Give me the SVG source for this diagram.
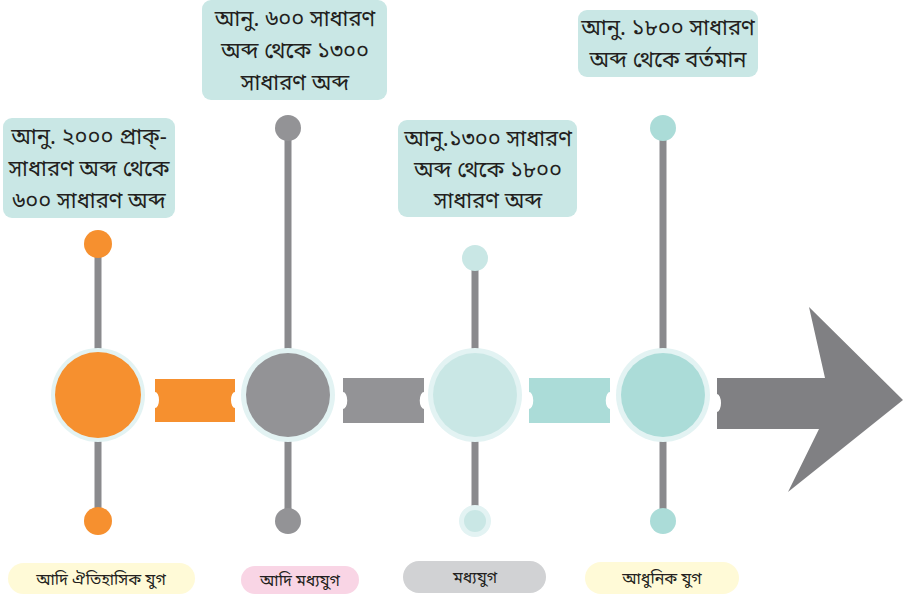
<svg xmlns="http://www.w3.org/2000/svg" width="903" height="599" viewBox="0 0 903 599">
<style>
.stem{stroke:#8a8a8d;stroke-width:7;fill:none}
.ring{fill:#e3f3f3}
.box{fill:#c9e7e5}
.t{font-family:"Noto Sans Bengali","Noto Sans",sans-serif;font-size:22px;fill:#231f20;text-anchor:middle}
.lb{font-family:"Noto Sans Bengali","Noto Sans",sans-serif;font-size:16px;fill:#231f20;text-anchor:middle}
</style>
<rect width="903" height="599" fill="#ffffff"/>
<g id="connectors">
<path d="M155,379 H235 V392 A4,8 0 0 0 235,408 V422 H155 V408 A4,8 0 0 0 155,392 Z" fill="#f6902f"/>
<path d="M343,378 H424 V392 A4,8 0 0 0 424,409 V423 H343 V409 A4,8 0 0 0 343,392 Z" fill="#939396"/>
<path d="M529,378 H610 V392 A4,8 0 0 0 610,409 V423 H529 V409 A4,8 0 0 0 529,392 Z" fill="#abdcd8"/>
<path d="M717,378 H825 L809,307 L903,400 L788,492 L819,429 H717 V412 A4,9 0 0 0 717,394 Z" fill="#808083"/>
</g>
<g id="node1">
<line class="stem" x1="98" y1="244" x2="98" y2="521"/>
<circle cx="98" cy="244" r="14" fill="#f6902f"/>
<circle cx="98" cy="521" r="14" fill="#f6902f"/>
<circle class="ring" cx="98" cy="395" r="47"/>
<circle cx="98" cy="395" r="43" fill="#f6902f"/>
<rect class="box" x="3" y="118" width="172" height="100" rx="9"/>
<text class="t" x="89" y="144">আনু. ২০০০ প্রাক্-</text>
<text class="t" x="89" y="176">সাধারণ অব্দ থেকে</text>
<text class="t" x="89" y="208">৬০০ সাধারণ অব্দ</text>
<rect x="8" y="563" width="187" height="31" rx="15.5" fill="#fffad7"/>
<text class="lb" x="101" y="585">আদি ঐতিহাসিক যুগ</text>
</g>
<g id="node2">
<line class="stem" x1="288" y1="128" x2="288" y2="521"/>
<circle cx="288" cy="128" r="13" fill="#939396"/>
<circle cx="288" cy="521" r="13" fill="#939396"/>
<circle class="ring" cx="288" cy="395" r="47"/>
<circle cx="288" cy="395" r="42" fill="#939396"/>
<rect class="box" x="202" y="0" width="185" height="100" rx="9"/>
<text class="t" x="295" y="26">আনু. ৬০০ সাধারণ</text>
<text class="t" x="295" y="58">অব্দ থেকে ১৩০০</text>
<text class="t" x="295" y="90">সাধারণ অব্দ</text>
<rect x="241" y="566" width="118" height="28" rx="14" fill="#f9d5e5"/>
<text class="lb" x="300" y="586">আদি মধ্যযুগ</text>
</g>
<g id="node3">
<line class="stem" x1="475" y1="258" x2="475" y2="521"/>
<circle cx="475" cy="258" r="13" fill="#c9e7e5"/>
<circle class="ring" cx="475" cy="521" r="16"/>
<circle cx="475" cy="521" r="11" fill="#c9e7e5"/>
<circle class="ring" cx="475" cy="395" r="47"/>
<circle cx="475" cy="395" r="42" fill="#c9e7e5"/>
<rect class="box" x="398" y="120" width="179" height="97" rx="9"/>
<text class="t" x="488" y="146">আনু.১৩০০ সাধারণ</text>
<text class="t" x="488" y="177">অব্দ থেকে ১৮০০</text>
<text class="t" x="488" y="208">সাধারণ অব্দ</text>
<rect x="403" y="561" width="143" height="32" rx="16" fill="#d1d2d4"/>
<text class="lb" x="475" y="583">মধ্যযুগ</text>
</g>
<g id="node4">
<line class="stem" x1="663" y1="128" x2="663" y2="521"/>
<circle cx="663" cy="128" r="13" fill="#abdcd8"/>
<circle cx="663" cy="521" r="13" fill="#abdcd8"/>
<circle class="ring" cx="663" cy="395" r="47"/>
<circle cx="663" cy="395" r="42" fill="#abdcd8"/>
<rect class="box" x="578" y="10" width="180" height="67" rx="9"/>
<text class="t" x="668" y="35">আনু. ১৮০০ সাধারণ</text>
<text class="t" x="668" y="67">অব্দ থেকে বর্তমান</text>
<rect x="585" y="562" width="154" height="32" rx="16" fill="#fffad7"/>
<text class="lb" x="662" y="584">আধুনিক যুগ</text>
</g>
</svg>
